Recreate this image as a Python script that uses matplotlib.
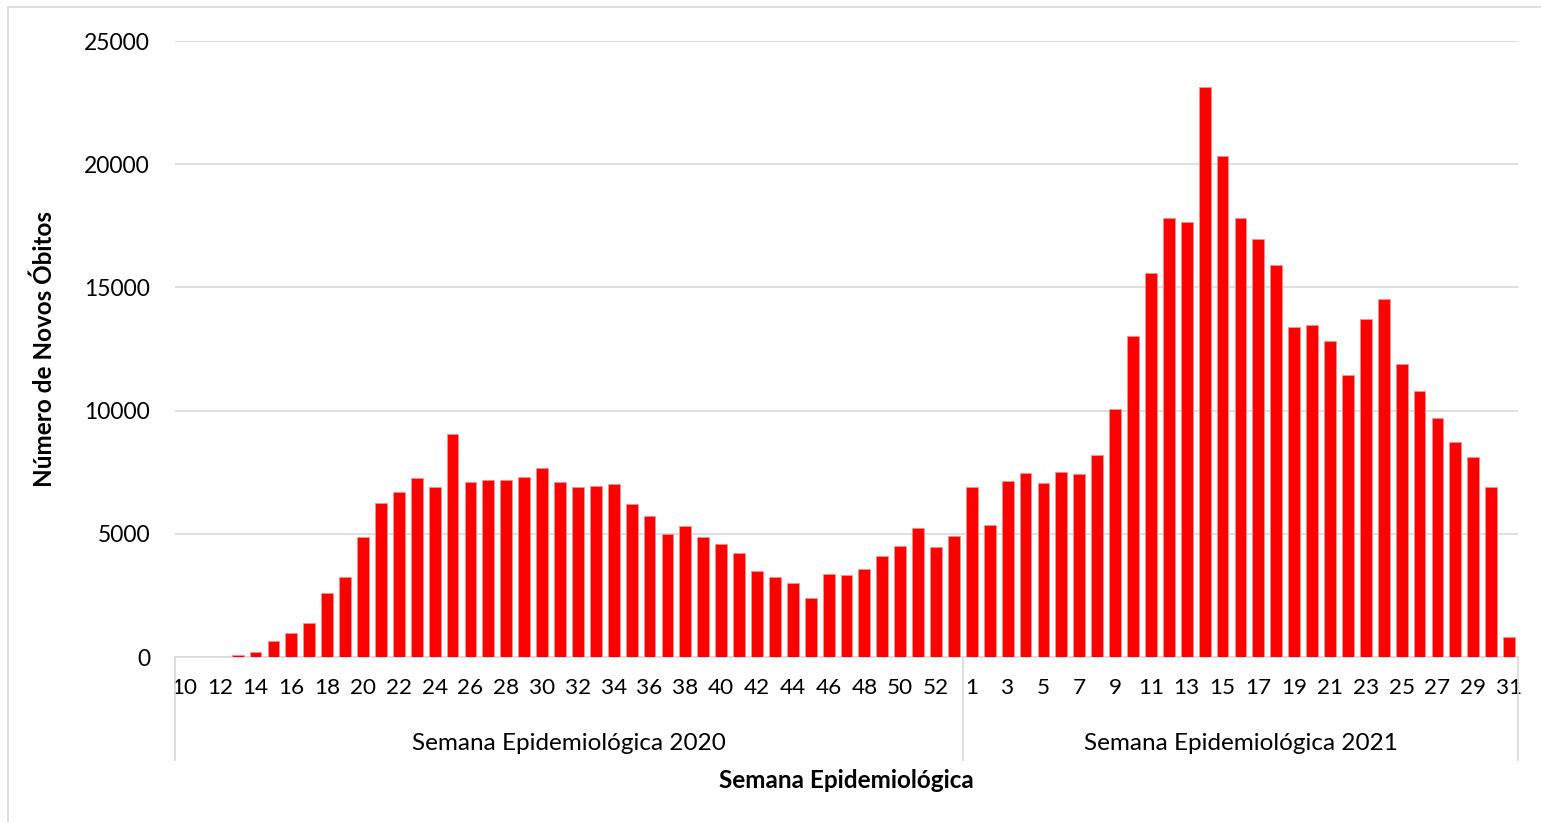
import matplotlib.pyplot as plt
from matplotlib.lines import Line2D
import matplotlib.transforms as mtransforms

# weekly new deaths, epi weeks 10-53 of 2020 and 1-31 of 2021
weeks_2020 = list(range(10, 54))
deaths_2020 = [0, 1, 20, 70, 216, 649, 986, 1392, 2594, 3243,
               4850, 6270, 6715, 7270, 6905, 9052, 7094, 7188, 7201, 7310,
               7687, 7120, 6917, 6944, 7012, 6215, 5728, 4999, 5309, 4877,
               4566, 4202, 3472, 3229, 2986, 2378, 3378, 3337, 3553, 4080,
               4485, 5229, 4445, 4920]
weeks_2021 = list(range(1, 32))
deaths_2021 = [6890, 5350, 7133, 7471, 7052, 7498, 7417, 8214, 10051, 13037,
               15604, 17798, 17663, 23121, 20338, 17825, 16947, 15890, 13392, 13473,
               12838, 11460, 13730, 14513, 11892, 10811, 9703, 8730, 8135, 6892,
               824]
group_labels = ['Semana Epidemiológica 2020', 'Semana Epidemiológica 2021']

weeks = weeks_2020 + weeks_2021
deaths = deaths_2020 + deaths_2021
n20 = len(weeks_2020)
n = len(weeks)
x = list(range(n))

plt.rcParams['font.family'] = ['Lato', 'DejaVu Sans']

fig = plt.figure(figsize=(15.41, 8.22), dpi=100)
ax = fig.add_axes([175 / 1541, 1 - 657 / 822, 1343 / 1541, 616 / 822])

ax.bar(x, deaths, width=0.66, color='#ff0000', edgecolor='#ff9090', linewidth=0.6, zorder=3)

ax.set_xlim(-0.5, n - 0.5)
ax.set_ylim(0, 25000)
ax.set_yticks(range(0, 25001, 5000))
ax.grid(axis='y', color='#d9d9d9', linewidth=1.2, zorder=0)

# every other week gets a label
ax.set_xticks(x[::2])
ax.set_xticklabels([str(w) for w in weeks[::2]])
ax.tick_params(axis='x', length=0, pad=15, labelsize=16.2, colors='black')
ax.tick_params(axis='y', length=0, pad=18, labelsize=16.5, colors='black')

for s in ['top', 'right', 'left']:
    ax.spines[s].set_visible(False)
ax.spines['bottom'].set_color('#d9d9d9')
ax.spines['bottom'].set_linewidth(1.2)

# year groups under the week labels
trans = mtransforms.blended_transform_factory(ax.transData, ax.transAxes)
for xs in [-0.5, n20 - 0.5, n - 0.5]:
    ax.plot([xs, xs], [0, -0.167], transform=trans, color='#d9d9d9', linewidth=1.2, clip_on=False)
ax.text((n20 - 1) / 2, -0.14, group_labels[0], transform=trans, ha='center', va='center', fontsize=17.5)
ax.text((n20 + n - 1) / 2, -0.14, group_labels[1], transform=trans, ha='center', va='center', fontsize=17.5)

ax.set_xlabel('Semana Epidemiológica', fontsize=17.5, fontweight='bold')
ax.xaxis.set_label_coords(0.5, -0.201)
ax.xaxis.label.set_verticalalignment('center')
ax.set_ylabel('Número de Novos Óbitos', fontsize=17.5, fontweight='bold')
ax.yaxis.set_label_coords(-0.097, 0.5)
ax.yaxis.label.set_verticalalignment('center')

# chart border
fig.add_artist(Line2D([8 / 1541, 8 / 1541], [0, 1 - 7 / 822], transform=fig.transFigure, color='#d9d9d9', linewidth=1.2))
fig.add_artist(Line2D([8 / 1541, 1], [1 - 7 / 822, 1 - 7 / 822], transform=fig.transFigure, color='#d9d9d9', linewidth=1.2))

fig.savefig('out.png', dpi=100)
